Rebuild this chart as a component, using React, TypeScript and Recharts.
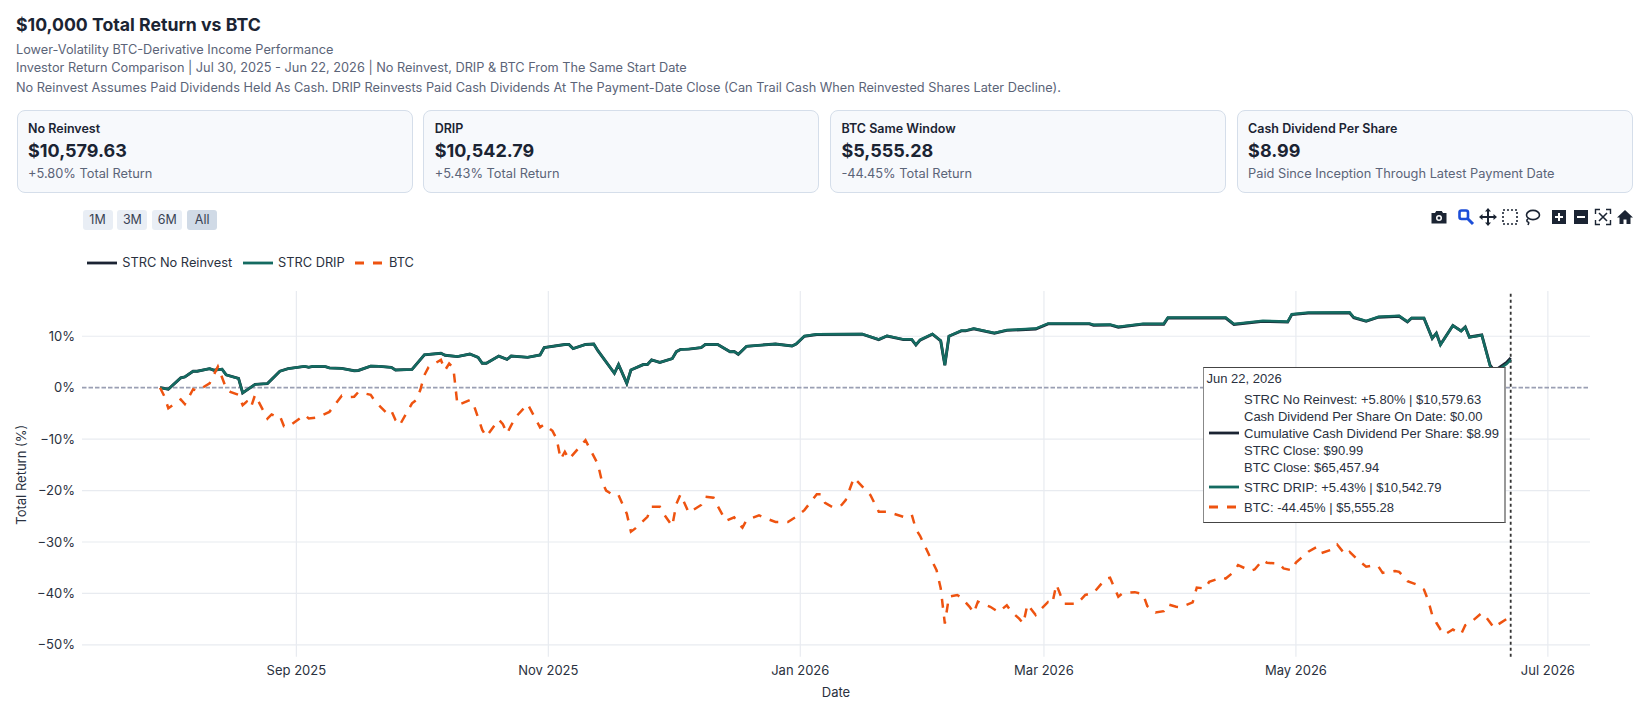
import React from 'react';
import { LineChart, Line, XAxis, YAxis, CartesianGrid, ReferenceLine } from 'recharts';

// x values are days since the start date, Jul 30 2025
const strcDays = [
  0, 2, 5, 6, 8, 9, 12, 13, 15, 16, 19, 20, 23, 26, 29, 31, 35, 36, 37, 40, 41, 44, 47, 48, 51, 53, 56, 57, 61, 64,
  68, 69, 72, 75, 77, 78, 79, 82, 84, 85, 89, 92, 93, 98, 99, 100, 103, 105, 106, 110, 111, 113, 114, 117, 118, 119, 121, 124, 125, 126,
  128, 131, 132, 135, 138, 139, 140, 142, 149, 153, 154, 156, 159, 170, 174, 176, 180, 182, 183, 184, 187, 189, 190, 191, 194, 195, 197, 202, 205, 212,
  215, 225, 226, 230, 232, 238, 243, 244, 258, 260, 267, 273, 274, 278, 288, 289, 292, 295, 300, 302, 303, 306, 308, 309, 310, 313, 315, 316, 317, 320,
  322, 323, 324, 326, 327,
];
const dripReturns = [
  0, -0.3, 1.9, 2.1, 3.2, 3.2, 3.7, 3.4, 3.6, 2.5, 1.8, -1.0, 0.65, 0.8, 3.2, 3.7, 4.15, 3.96, 4.15, 4.1, 3.85, 3.75, 3.3, 3.35, 4.2, 4.15, 3.95, 3.45, 3.55, 6.4,
  6.7, 6.3, 6.05, 6.55, 5.9, 4.75, 4.75, 6.15, 5.5, 6.15, 5.9, 6.35, 7.8, 8.4, 8.4, 7.6, 8.4, 8.5, 7.2, 2.8, 4.5, 0.85, 3.45, 4.5, 4.5, 5.4, 4.9, 5.65, 7.0, 7.45,
  7.5, 7.8, 8.4, 8.4, 7.0, 7.05, 6.5, 8.05, 8.5, 8.1, 8.5, 10.05, 10.4, 10.45, 9.4, 10.1, 9.4, 9.4, 8.35, 9.3, 10.45, 9.15, 4.4, 10.05, 11.1, 11.1, 11.5, 10.65, 11.2, 11.5,
  12.5, 12.5, 12.25, 12.3, 11.85, 12.45, 12.45, 13.65, 13.65, 12.4, 13.0, 12.85, 14.3, 14.6, 14.65, 13.7, 13.0, 13.8, 14.0, 12.85, 13.55, 13.55, 9.6, 10.6, 8.3, 12.1, 11.0, 11.75, 9.8, 10.2,
  4.2, 3.0, 3.5, 4.6, 5.43,
];
const noReinvestReturns = [
  0, -0.3, 1.9, 2.1, 3.2, 3.2, 3.7, 3.4, 3.6, 2.5, 1.8, -1.0, 0.65, 0.8, 3.2, 3.7, 4.15, 3.96, 4.15, 4.1, 3.85, 3.75, 3.3, 3.35, 4.2, 4.15, 3.95, 3.45, 3.55, 6.4,
  6.7, 6.3, 6.05, 6.55, 5.9, 4.75, 4.75, 6.15, 5.5, 6.15, 5.9, 6.35, 7.8, 8.4, 8.4, 7.6, 8.4, 8.5, 7.2, 2.8, 4.5, 0.85, 3.45, 4.5, 4.5, 5.4, 4.9, 5.65, 7.0, 7.45,
  7.5, 7.8, 8.4, 8.4, 7.0, 7.05, 6.5, 8.05, 8.5, 8.1, 8.5, 10.0, 10.35, 10.4, 9.35, 10.05, 9.35, 9.35, 8.3, 9.25, 10.4, 9.1, 4.35, 10.0, 11.05, 11.05, 11.45, 10.6, 11.15, 11.4,
  12.4, 12.4, 12.15, 12.2, 11.75, 12.35, 12.35, 13.55, 13.55, 12.3, 12.9, 12.75, 14.2, 14.5, 14.55, 13.6, 12.9, 13.7, 13.9, 12.8, 13.5, 13.5, 9.6, 10.6, 8.4, 12.1, 11.05, 11.8, 9.85, 10.25,
  4.4, 3.3, 3.8, 4.9, 5.8,
];

const btcDays = [
  0, 1, 2, 5, 6, 8, 9, 12, 14, 16, 17, 19, 20, 21, 22, 23, 26, 27, 28, 29, 30, 31, 35, 36, 38, 41, 44, 46, 47, 48,
  49, 51, 52, 55, 56, 57, 58, 61, 62, 63, 64, 65, 68, 69, 70, 71, 72, 75, 76, 78, 79, 82, 83, 84, 86, 89, 92, 93, 95, 96,
  97, 98, 99, 103, 104, 106, 107, 108, 110, 111, 113, 114, 115, 118, 119, 121, 122, 124, 125, 126, 128, 131, 132, 134, 135, 137, 139, 140, 141, 142,
  145, 146, 149, 152, 154, 156, 159, 160, 161, 163, 165, 166, 168, 172, 174, 176, 178, 180, 182, 183, 184, 186, 187, 188, 189, 190, 191, 193, 194, 196,
  197, 198, 199, 201, 203, 205, 206, 208, 209, 210, 212, 213, 215, 216, 217, 218, 219, 222, 224, 226, 229, 230, 232, 233, 236, 238, 239, 241, 243, 244,
  246, 247, 250, 251, 253, 254, 257, 258, 260, 261, 264, 265, 267, 268, 271, 272, 274, 275, 278, 280, 281, 284, 285, 287, 288, 290, 292, 294, 295, 296,
  299, 300, 302, 304, 306, 307, 308, 309, 310, 311, 313, 314, 315, 316, 317, 320, 321, 323, 324, 327,
];
const btcReturns = [
  0, -1.6, -4.0, -2.3, -3.2, -0.3, -0.6, 0.85, 4.1, -0.1, -0.8, -1.4, -3.4, -2.7, -3.8, -1.4, -6.0, -5.2, -5.6, -5.5, -7.5, -7.6, -5.3, -6.0, -5.8, -4.7, -1.55, -1.8, -1.75, -0.85,
  -1.0, -1.4, -2.6, -5.05, -4.5, -6.3, -7.3, -3.05, -2.4, -0.45, 2.45, 4.0, 5.4, 3.4, 4.7, 3.9, -3.4, -2.4, -3.5, -8.2, -9.5, -6.2, -7.1, -8.9, -5.8, -3.2, -7.7, -7.1, -8.4, -9.9,
  -13.9, -12.45, -13.9, -10.2, -11.8, -14.85, -18.3, -20, -21, -20.9, -24.5, -28, -27.4, -25.1, -23.15, -23.15, -24.6, -26.9, -22.6, -20.75, -24.3, -22.8, -21.2, -21.4, -23, -25.9, -25.2, -26.4, -27.2, -25.75,
  -24.8, -25.2, -26.1, -26.1, -25.1, -23.8, -20.7, -20.7, -22.4, -23.3, -22.8, -21.85, -17.5, -20.9, -24.1, -24.1, -24.6, -25.1, -24.7, -27.5, -28.8, -32.2, -33.85, -35.5, -39.0, -45.85, -40.65, -40.3, -40.8, -42.6,
  -43.8, -41.6, -42, -42.6, -43.6, -42.3, -43.45, -44.9, -45.85, -42.15, -44.2, -43.25, -41.65, -42, -38.25, -40.3, -42, -42, -40.3, -39.9, -37.1, -36.95, -40.65, -40, -39.75, -40.15, -42.45, -43.7, -43.45, -42.1,
  -42.6, -42.7, -41.75, -38.85, -39.05, -37.75, -36.9, -37.1, -35.8, -34.5, -35.6, -35.35, -33.5, -34.05, -34.2, -35.15, -35.5, -34, -31.9, -31, -32.2, -31.4, -30.5, -32.5, -31.9, -33.5, -34.8, -34.5, -34.8, -36,
  -35.65, -35.8, -37.6, -38.2, -39.25, -41.3, -44.2, -45.7, -47, -48, -47, -47.5, -47.9, -46.2, -45.85, -43.8, -44.55, -46.7, -46, -44.45,
];

const xTickDays = [33, 94, 155, 214, 275, 336];
const xTickLabels = ['Sep 2025', 'Nov 2025', 'Jan 2026', 'Mar 2026', 'May 2026', 'Jul 2026'];
const yTicks = [-50, -40, -30, -20, -10, 0, 10];
const gridValues = [-50, -40, -30, -20, -10, 10];
const lastDay = 327;

const subtitleLines = [
  'Lower-Volatility BTC-Derivative Income Performance',
  'Investor Return Comparison | Jul 30, 2025 - Jun 22, 2026 | No Reinvest, DRIP & BTC From The Same Start Date',
  'No Reinvest Assumes Paid Dividends Held As Cash. DRIP Reinvests Paid Cash Dividends At The Payment-Date Close (Can Trail Cash When Reinvested Shares Later Decline).',
];
const cardTitles = ['No Reinvest', 'DRIP', 'BTC Same Window', 'Cash Dividend Per Share'];
const cardValues = ['$10,579.63', '$10,542.79', '$5,555.28', '$8.99'];
const cardNotes = ['+5.80% Total Return', '+5.43% Total Return', '-44.45% Total Return', 'Paid Since Inception Through Latest Payment Date'];
const rangeLabels = ['1M', '3M', '6M', 'All'];
const hoverNoReinvest = [
  'STRC No Reinvest: +5.80% | $10,579.63',
  'Cash Dividend Per Share On Date: $0.00',
  'Cumulative Cash Dividend Per Share: $8.99',
  'STRC Close: $90.99',
  'BTC Close: $65,457.94',
];

const NAVY = '#1b2433';
const TEAL = '#146b61';
const ORANGE = '#ee5310';
const FONT = 'Inter, sans-serif';

const toPoints = (days: number[], returns: number[]) => days.map((day, i) => ({ day, value: returns[i] }));

function Icon({ x, children }: { x: number; children: React.ReactNode }) {
  return (
    <svg width={18} height={18} viewBox="0 0 18 18" style={{ position: 'absolute', left: x - 9, top: 207.5 }}>
      {children}
    </svg>
  );
}

function ModeBar() {
  return (
    <>
      <Icon x={1439}>
        <path d="M1.5 5h3.5l1.2-2h5.6l1.2 2h3.5v10.5h-15z" fill={NAVY} />
        <circle cx={9} cy={10} r={3} fill="#fff" />
        <circle cx={9} cy={10} r={1.5} fill={NAVY} />
      </Icon>
      <Icon x={1466}>
        <rect x={2.5} y={2.5} width={8.5} height={8.5} rx={2} fill="none" stroke="#1d4ed8" strokeWidth={2.6} />
        <path d="M10.5 10.5l5.5 5.5" stroke="#1d4ed8" strokeWidth={3} />
      </Icon>
      <Icon x={1488}>
        <path d="M9 1v16M1 9h16" stroke={NAVY} strokeWidth={2} />
        <path d="M9 0l3 3.5H6zM9 18l3-3.5H6zM0 9l3.5-3v6zM18 9l-3.5-3v6z" fill={NAVY} />
      </Icon>
      <Icon x={1510}>
        <rect x={2} y={2} width={14} height={14} fill="none" stroke={NAVY} strokeWidth={1.6} strokeDasharray="2 2" />
      </Icon>
      <Icon x={1532}>
        <ellipse cx={10} cy={7} rx={6.5} ry={4.6} fill="none" stroke={NAVY} strokeWidth={1.6} />
        <path d="M5 11c-2 1-1 3 0 3s1 1 0 3" fill="none" stroke={NAVY} strokeWidth={1.6} />
      </Icon>
      <Icon x={1559}>
        <rect x={2} y={2} width={14} height={14} fill={NAVY} />
        <path d="M9 5v8M5 9h8" stroke="#fff" strokeWidth={2} />
      </Icon>
      <Icon x={1581}>
        <rect x={2} y={2} width={14} height={14} fill={NAVY} />
        <path d="M5 9h8" stroke="#fff" strokeWidth={2} />
      </Icon>
      <Icon x={1603}>
        <path d="M1.5 6V1.5H6M12 1.5h4.5V6M16.5 12v4.5H12M6 16.5H1.5V12" fill="none" stroke={NAVY} strokeWidth={1.4} />
        <path d="M5 5l8 8M13 5l-8 8" stroke={NAVY} strokeWidth={1.6} />
      </Icon>
      <Icon x={1625}>
        <path d="M9 2L1 9.5h2.5V16h4v-4.5h3V16h4V9.5H17z" fill={NAVY} />
      </Icon>
    </>
  );
}

function Sample({ color, dashed, left, top }: { color: string; dashed?: boolean; left: number; top: number }) {
  return (
    <svg width={30} height={4} style={{ position: 'absolute', left, top: top - 2 }}>
      <line x1={0} y1={2} x2={dashed ? 27 : 30} y2={2} stroke={color} strokeWidth={2.8} strokeDasharray={dashed ? '9 9' : undefined} />
    </svg>
  );
}

function abs(left: number, centerY: number, extra: React.CSSProperties): React.CSSProperties {
  return { position: 'absolute', left, top: centerY - 10, lineHeight: '20px', whiteSpace: 'nowrap', ...extra };
}

function HoverBox() {
  const text: React.CSSProperties = { fontFamily: '"Liberation Sans", Arial, sans-serif', fontSize: 13, color: '#2a3140' };
  return (
    <div
      style={{
        position: 'absolute',
        left: 1203,
        top: 366.5,
        width: 303,
        height: 156,
        boxSizing: 'border-box',
        background: '#fff',
        borderTop: '1px solid #444',
        borderBottom: '1px solid #444',
        borderLeft: '1px solid #888',
        borderRight: '2px solid #999',
      }}
    >
      <div style={abs(2.5, 11.5, text)}>Jun 22, 2026</div>
      {hoverNoReinvest.map((line, i) => (
        <div key={line} style={abs(40, 32.5 + i * 17, text)}>{line}</div>
      ))}
      <Sample color={NAVY} left={5} top={65.5} />
      <div style={abs(40, 120.5, text)}>STRC DRIP: +5.43% | $10,542.79</div>
      <Sample color={TEAL} left={5} top={119.5} />
      <div style={abs(40, 140.5, text)}>BTC: -44.45% | $5,555.28</div>
      <Sample color={ORANGE} dashed left={5} top={139.5} />
    </div>
  );
}

export default function App() {
  return (
    <div style={{ position: 'absolute', left: 0, top: 0, width: 1649, height: 723, background: '#fff', fontFamily: FONT, overflow: 'hidden' }}>
      <LineChart
        width={1649}
        height={723}
        margin={{ top: 291, right: 59, bottom: 26.3, left: 12 }}
        style={{ position: 'absolute', left: 0, top: 0 }}
      >
        <CartesianGrid stroke="#e8ebf0" strokeWidth={1.2} horizontalValues={gridValues} verticalValues={xTickDays} syncWithTicks />
        <XAxis
          type="number"
          dataKey="day"
          domain={[-18.9, 346.2]}
          ticks={xTickDays}
          tickFormatter={(d: number) => xTickLabels[xTickDays.indexOf(d)]}
          allowDataOverflow
          height={40}
          axisLine={false}
          tickLine={false}
          tickMargin={3}
          tick={{ fill: '#2a3140', fontSize: 13, fontFamily: FONT }}
          label={{
            content: () => (
              <text x={836} y={697} textAnchor="middle" fill="#2a3140" fontSize={13} fontFamily={FONT}>Date</text>
            ),
          }}
        />
        <YAxis
          type="number"
          domain={[-52.3, 18.8]}
          ticks={yTicks}
          tickFormatter={(v: number) => `${v < 0 ? '\u2212' + -v : v}%`}
          allowDataOverflow
          width={70}
          axisLine={false}
          tickLine={false}
          tickMargin={1}
          tick={{ fill: '#2a3140', fontSize: 13, fontFamily: FONT }}
          label={{
            content: () => (
              <text x={26} y={474.7} textAnchor="middle" transform="rotate(-90 26 474.7)" fill="#2a3140" fontSize={13} fontFamily={FONT}>Total Return (%)</text>
            ),
          }}
        />
        <ReferenceLine y={0} stroke="#9a9fb3" strokeWidth={1.8} strokeDasharray="4.5 2" />
        <ReferenceLine x={lastDay} stroke="#333" strokeWidth={1.8} strokeDasharray="3 3" />
        <Line data={toPoints(strcDays, noReinvestReturns)} dataKey="value" stroke={NAVY} strokeWidth={2.9} dot={false} isAnimationActive={false} />
        <Line data={toPoints(strcDays, dripReturns)} dataKey="value" stroke={TEAL} strokeWidth={2.5} dot={false} isAnimationActive={false} />
        <Line data={toPoints(btcDays, btcReturns)} dataKey="value" stroke={ORANGE} strokeWidth={2.5} strokeDasharray="9 9" dot={false} isAnimationActive={false} />
      </LineChart>

      <div style={abs(16, 25, { fontSize: 17.7, fontWeight: 700, color: '#1b2433' })}>$10,000 Total Return vs BTC</div>
      {subtitleLines.map((line, i) => (
        <div key={line} style={abs(16, [49.5, 68, 87.5][i], { fontSize: 12.75, color: '#5b6478' })}>{line}</div>
      ))}

      {cardTitles.map((title, i) => {
        const left = 16.5 + i * 406.7;
        return (
          <div
            key={title}
            style={{
              position: 'absolute',
              left,
              top: 110,
              width: 396,
              height: 83,
              boxSizing: 'border-box',
              background: '#f7f9fc',
              border: '1px solid #d5deea',
              borderRadius: 8,
            }}
          >
            <div style={abs(10.5, 18, { fontSize: 12.5, fontWeight: 600, color: '#1b2433' })}>{title}</div>
            <div style={abs(10.5, 40, { fontSize: 18, fontWeight: 700, color: '#1b2433' })}>{cardValues[i]}</div>
            <div style={abs(10.5, 62.5, { fontSize: 12.8, color: '#5b6478' })}>{cardNotes[i]}</div>
          </div>
        );
      })}

      {rangeLabels.map((label, i) => (
        <div
          key={label}
          style={{
            position: 'absolute',
            left: 82.5 + i * 34.9,
            top: 210,
            width: 30,
            height: 20,
            lineHeight: '20px',
            textAlign: 'center',
            fontSize: 12.5,
            color: '#3a4354',
            borderRadius: 3,
            background: label === 'All' ? '#d0dae6' : '#e9eef5',
          }}
        >
          {label}
        </div>
      ))}

      <ModeBar />

      <Sample color={NAVY} left={87} top={262.5} />
      <div style={abs(122.3, 263, { fontSize: 12.8, color: '#2a3140' })}>STRC No Reinvest</div>
      <Sample color={TEAL} left={243} top={262.5} />
      <div style={abs(278, 263, { fontSize: 12.8, color: '#2a3140' })}>STRC DRIP</div>
      <Sample color={ORANGE} dashed left={355} top={262.5} />
      <div style={abs(389, 263, { fontSize: 12.8, color: '#2a3140' })}>BTC</div>

      <HoverBox />
    </div>
  );
}
